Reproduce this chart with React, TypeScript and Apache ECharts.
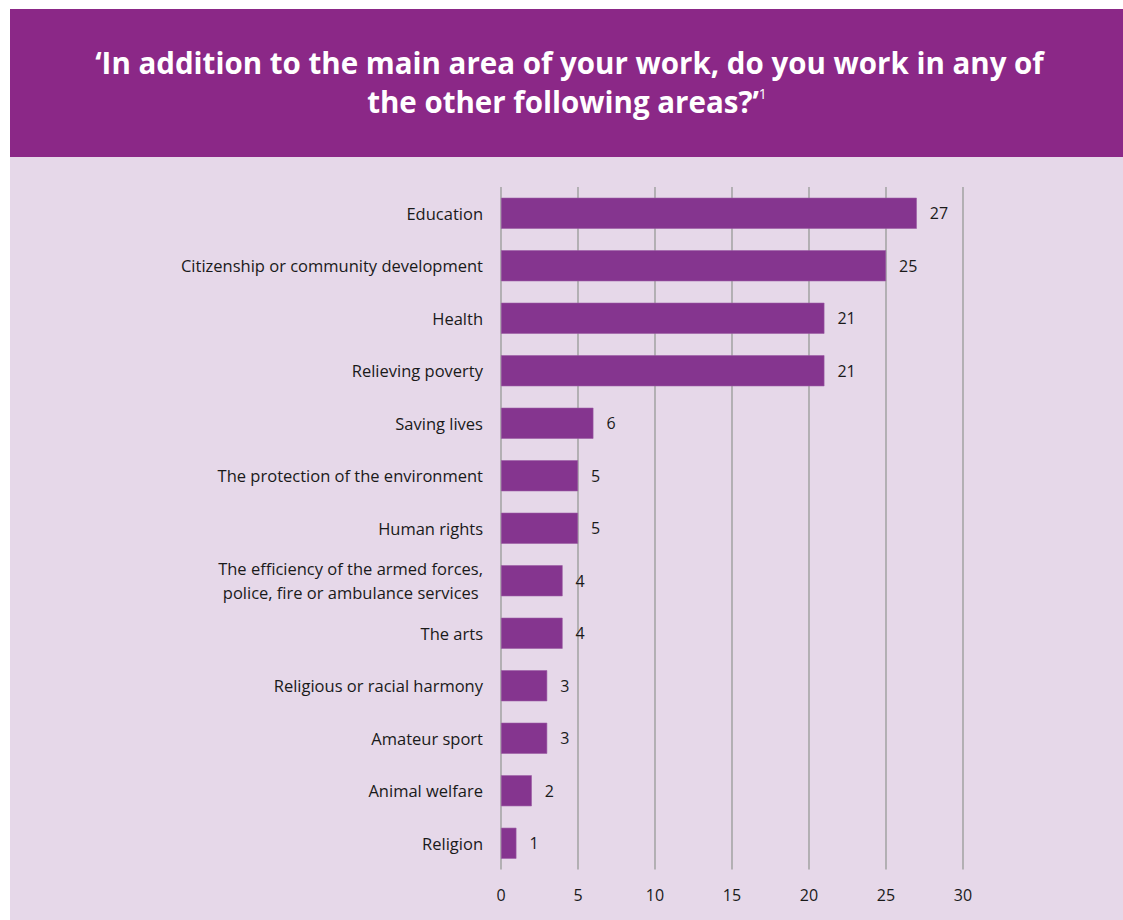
import React, { useEffect, useRef } from "react";
import * as echarts from "echarts";

const categories = [
  "Education",
  "Citizenship or community development",
  "Health",
  "Relieving poverty",
  "Saving lives",
  "The protection of the environment",
  "Human rights",
  "The efficiency of the armed forces,\npolice, fire or ambulance services ",
  "The arts",
  "Religious or racial harmony",
  "Amateur sport",
  "Animal welfare",
  "Religion",
];
const values = [27, 25, 21, 21, 6, 5, 5, 4, 4, 3, 3, 2, 1];
const xTicks = [0, 5, 10, 15, 20, 25, 30];

export default function App() {
  const ref = useRef<HTMLDivElement>(null);
  useEffect(() => {
    document.body.style.margin = "0";
    const chart = echarts.init(ref.current!, null, { renderer: "svg" });
    const font = "'Open Sans', 'Noto Sans', sans-serif";
    chart.setOption({
      animation: false,
      textStyle: { fontFamily: font },
      graphic: [
        { type: "rect", z: -10, shape: { x: 10, y: 157, width: 1113, height: 763 }, style: { fill: "#E6D8E9" } },
        { type: "rect", z: -10, shape: { x: 10, y: 9, width: 1113, height: 148 }, style: { fill: "#8B2887" } },
        {
          type: "text",
          x: 569.5,
          y: 47,
          style: {
            text: "‘In addition to the main area of your work, do you work in any of",
            fill: "#ffffff",
            font: "bold 29.5px 'Open Sans', sans-serif",
            textAlign: "center",
          },
        },
        {
          type: "text",
          x: 567,
          y: 86,
          style: {
            text: "{t|the other following areas?’}{s|1}",
            fill: "#ffffff",
            textAlign: "center",
            rich: {
              t: { font: "bold 29.5px 'Open Sans', sans-serif", fill: "#ffffff" },
              s: { font: "14px 'Open Sans', sans-serif", fill: "#ffffff", verticalAlign: "top", padding: [0, 0, 14, 0] },
            },
          },
        },
      ],
      grid: { left: 501, right: 160, top: 187, bottom: 50.5, containLabel: false },
      xAxis: {
        type: "value",
        min: 0,
        max: 30,
        interval: 5,
        axisLine: { show: false },
        axisTick: { show: false },
        axisLabel: { color: "#1a1a1a", fontSize: 16, margin: 17, fontFamily: font },
        splitLine: { show: true, lineStyle: { color: "#A6A6A6", width: 1.6 } },
      },
      yAxis: {
        type: "category",
        data: categories,
        inverse: true,
        axisLine: { show: false },
        axisTick: { show: false },
        axisLabel: {
          color: "#1a1a1a",
          fontSize: 16.5,
          margin: 18,
          lineHeight: 24,
          fontFamily: font,
          align: "right",
        },
        splitLine: { show: false },
      },
      series: [
        {
          type: "bar",
          data: values,
          barWidth: 31,
          itemStyle: { color: "#85358F", borderColor: "#9a5aa3", borderWidth: 0.6 },
          label: {
            show: true,
            position: "right",
            distance: 13,
            color: "#1a1a1a",
            fontSize: 16,
            fontFamily: font,
          },
        },
      ],
    });
    return () => chart.dispose();
  }, []);
  return <div ref={ref} style={{ width: 1123, height: 920 }} />;
}
